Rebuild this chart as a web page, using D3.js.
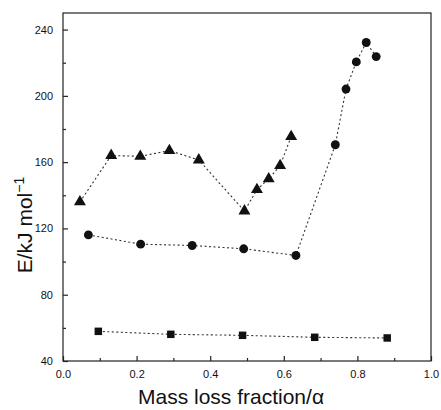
<!DOCTYPE html>
<html><head><meta charset="utf-8">
<script src="https://cdn.jsdelivr.net/npm/d3@7"></script>
<style>body{margin:0;background:#fff}svg{display:block}text{font-family:"Liberation Sans",Arial,sans-serif;fill:#111}</style>
</head><body><svg id="c" width="441" height="410"></svg>
<script>
const triX = [0.046, 0.131, 0.210, 0.289, 0.369, 0.493, 0.527, 0.559, 0.590, 0.620];
const triY = [136, 164, 163.5, 167, 161.3, 130.5, 143.4, 149.9, 157.9, 175.4];
const cirX = [0.069, 0.211, 0.351, 0.491, 0.633, 0.740, 0.769, 0.797, 0.824, 0.851];
const cirY = [116.1, 110.5, 109.7, 107.7, 103.7, 170.5, 204.1, 220.5, 232.2, 223.7];
const sqX = [0.096, 0.293, 0.488, 0.684, 0.881];
const sqY = [57.9, 56.1, 55.5, 54.3, 53.9];
const xTicks = [0.0, 0.2, 0.4, 0.6, 0.8, 1.0];
const yTicks = [40, 80, 120, 160, 200, 240];

const svg = d3.select("#c");
const x = d3.scaleLinear().domain([0, 1.0]).range([63, 431]);
const y = d3.scaleLinear().domain([40, 250]).range([361, 13]);

// frame
svg.append("rect").attr("x", 63).attr("y", 13).attr("width", 368).attr("height", 348)
  .attr("fill", "none").attr("stroke", "#222").attr("stroke-width", 1.2);

// axes (ticks inward)
svg.append("g").attr("transform", "translate(0,361)")
  .call(d3.axisBottom(x).tickValues(xTicks).tickFormat(d3.format(".1f")).tickSize(-5).tickPadding(9));
svg.append("g").attr("transform", "translate(0,361)")
  .call(d3.axisBottom(x).tickValues(d3.range(0.1, 1.0, 0.2)).tickFormat("").tickSize(-3));
svg.append("g").attr("transform", "translate(63,0)")
  .call(d3.axisLeft(y).tickValues(yTicks).tickSize(-5).tickPadding(10));
svg.append("g").attr("transform", "translate(63,0)")
  .call(d3.axisLeft(y).tickValues(d3.range(60, 250, 40)).tickFormat("").tickSize(-3));
svg.selectAll(".domain").remove();
svg.selectAll(".tick line").attr("stroke", "#222").attr("stroke-width", 1.2);
svg.selectAll(".tick text").attr("font-size", 11).attr("fill", "#111")
  .attr("font-family", "Liberation Sans, Arial, sans-serif");

// labels
svg.append("text").attr("x", 138).attr("y", 404).attr("text-anchor", "start")
  .attr("font-size", 21).text("Mass loss fraction/α");
const yl = svg.append("text").attr("transform", "translate(32,225) rotate(-90)")
  .attr("text-anchor", "middle").attr("font-size", 21);
yl.append("tspan").text("E/kJ mol");
yl.append("tspan").attr("dy", -8).attr("font-size", 14).text("−1");

function series(xs, ys, sym, size) {
  const pts = xs.map((v, i) => [v, ys[i]]);
  svg.append("path").datum(pts)
    .attr("d", d3.line().x(d => x(d[0])).y(d => y(d[1])))
    .attr("fill", "none").attr("stroke", "#333").attr("stroke-width", 1.1)
    .attr("stroke-dasharray", "2,2.5");
  svg.append("g").selectAll("path").data(pts).join("path")
    .attr("transform", d => `translate(${x(d[0])},${y(d[1])})`)
    .attr("d", d3.symbol().type(sym).size(size))
    .attr("fill", "#111");
}
series(triX, triY, d3.symbolTriangle, 62);
series(cirX, cirY, d3.symbolCircle, 62);
series(sqX, sqY, d3.symbolSquare, 56);
</script></body></html>
